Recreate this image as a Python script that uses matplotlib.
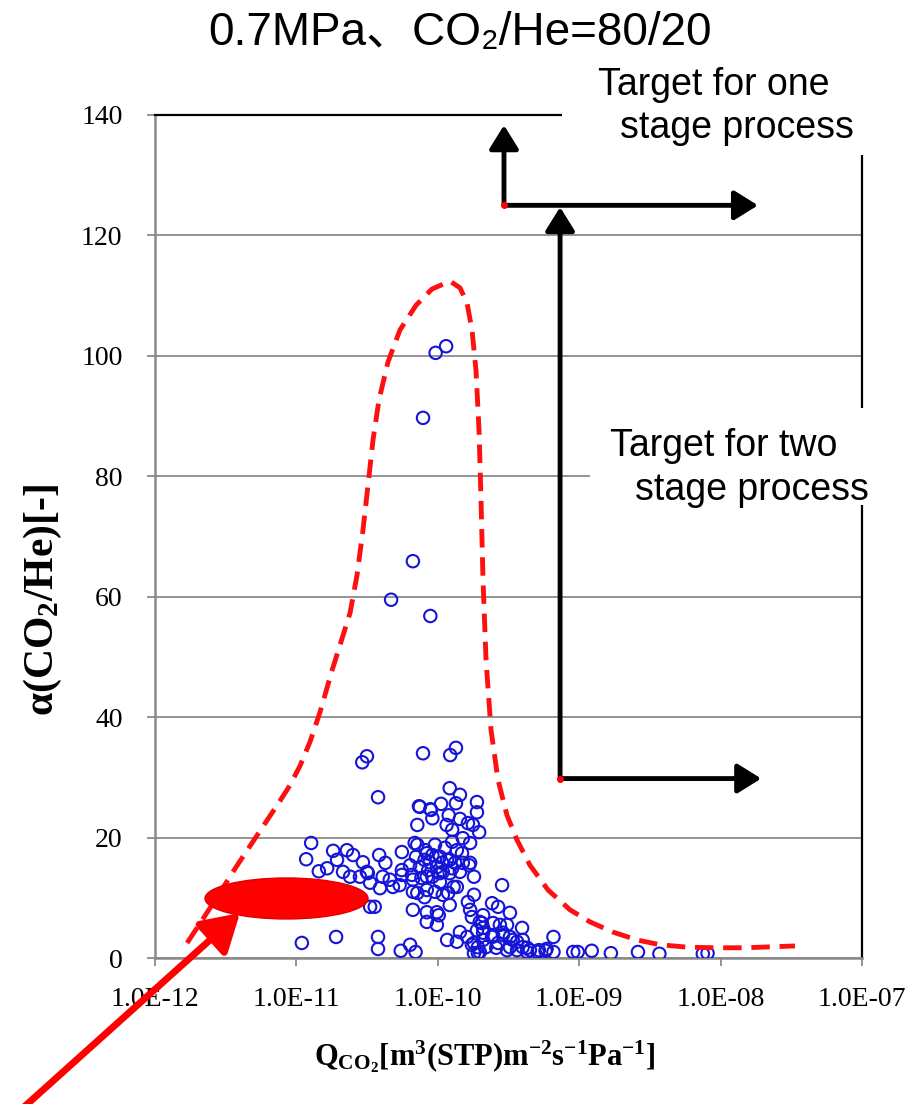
import numpy as np
import matplotlib
matplotlib.use("Agg")
import matplotlib.pyplot as plt
from matplotlib.patches import Ellipse, Rectangle
from matplotlib.ticker import FixedLocator, FuncFormatter, NullLocator

plt.rcParams["mathtext.fontset"] = "custom"
plt.rcParams["mathtext.rm"] = "Liberation Serif:bold"
plt.rcParams["mathtext.it"] = "Liberation Serif:bold"
plt.rcParams["mathtext.bf"] = "Liberation Serif:bold"
plt.rcParams["mathtext.default"] = "rm"

# Membrane data: CO2 permeance [m3(STP) m-2 s-1 Pa-1] and CO2/He selectivity
q_co2 = [
    1.15e-10, 9.7e-11, 7.9e-11, 6.7e-11, 4.7e-11, 8.9e-11, 1.23e-10, 1.35e-10, 7.9e-11, 3.17e-11,
    2.94e-11, 3.8e-11, 1.22e-10, 1.44e-10, 7.4e-11, 9.0e-11, 1.06e-10, 1.35e-10, 1.9e-10, 1.9e-10,
    1.2e-10, 9.2e-11, 1.44e-10, 1.64e-10, 1.78e-10, 1.97e-10, 7.2e-11, 1.27e-10, 1.51e-10, 1.70e-10,
    1.27e-10, 1.28e-11, 1.18e-11, 1.83e-11, 2.29e-11, 1.95e-11, 2.53e-11, 2.97e-11, 3.87e-11, 4.28e-11,
    5.6e-11, 7.2e-11, 7.05e-11, 8.4e-11, 1.04e-10, 1.22e-10, 1.49e-10, 1.51e-10, 1.67e-10, 1.45e-11,
    1.66e-11, 2.41e-11, 3.17e-11, 4.1e-11, 5.6e-11, 6.6e-11, 8.4e-11, 1.04e-10, 1.81e-10, 2.86e-10,
    3.92e-11, 4.84e-11, 5.4e-11, 7.2e-11, 8.4e-11, 1.09e-10, 1.37e-10, 1.81e-10, 3.34e-11, 3.6e-11,
    6.7e-11, 8.4e-11, 1.02e-10, 1.22e-10, 1.64e-10, 1.70e-10, 2.43e-10, 2.68e-10, 3.25e-10, 8.4e-11,
    9.9e-11, 1.75e-10, 1.99e-10, 2.1e-10, 2.47e-10, 2.76e-10, 3.96e-10, 6.6e-10, 1.10e-11, 1.92e-11,
    3.8e-11, 3.8e-11, 5.5e-11, 6.4e-11, 7.0e-11, 1.17e-10, 1.37e-10, 1.62e-10, 1.81e-10, 1.99e-10,
    2.1e-10, 2.43e-10, 2.68e-10, 2.9e-10, 3.25e-10, 3.65e-10, 4.0e-10, 4.5e-10, 5.1e-10, 5.8e-10,
    6.6e-10, 9.1e-10, 9.8e-10, 1.23e-9, 1.68e-9, 2.61e-9, 3.7e-9, 7.5e-9, 8.1e-9, 1.81e-10,
    1.93e-10, 7.5e-11, 8.9e-11, 1.16e-10, 6.9e-11, 8.2e-11, 9.2e-11, 1.17e-10, 1.33e-10, 1.70e-10,
    6.4e-11, 7.5e-11, 8.6e-11, 9.9e-11, 1.09e-10, 1.22e-10, 5.6e-11, 6.7e-11, 7.7e-11, 9.2e-11,
    1.04e-10, 1.30e-10, 6.7e-11, 8.1e-11, 9.6e-11, 1.19e-10, 9.9e-11, 2.1e-10, 2.06e-10, 1.9e-10,
    2.1e-10, 2.47e-10, 2.9e-10, 3.25e-10, 3.65e-10, 4.0e-10, 1.44e-10, 1.75e-10, 1.93e-10, 2.2e-10,
    2.6e-10, 3.1e-10, 4.3e-10, 3.1e-10, 3.4e-10, 4.3e-10, 5.2e-10, 5.9e-10, 2.15e-11, 3.22e-11,
    3.34e-11, 2.83e-11, 4.6e-11, 1.13e-10, 9.6e-11, 1.37e-10, 1.08e-10, 8.8e-11, 1.27e-10, 8.1e-11,
    1.44e-10,
]
alpha = [
    101.6, 100.5, 89.7, 65.9, 59.5, 56.8, 33.7, 34.9, 34.0, 33.5,
    32.5, 26.7, 28.2, 27.1, 25.2, 24.6, 25.6, 25.7, 25.9, 24.2,
    23.7, 23.2, 23.1, 22.4, 22.1, 20.9, 22.1, 21.3, 19.9, 19.1,
    19.3, 19.1, 16.4, 17.8, 17.9, 16.3, 17.1, 15.9, 17.1, 15.8,
    17.6, 18.8, 16.8, 17.4, 16.8, 16.3, 17.4, 15.8, 15.4, 14.4,
    14.9, 13.5, 14.3, 13.5, 14.6, 13.8, 13.5, 14.1, 13.5, 12.1,
    11.6, 11.8, 12.1, 10.8, 11.3, 10.5, 11.8, 10.5, 8.5, 8.5,
    8.0, 7.6, 7.1, 8.8, 9.3, 8.0, 9.1, 8.5, 7.5, 6.0,
    5.5, 6.8, 6.0, 5.0, 5.8, 5.5, 5.0, 3.5, 2.5, 3.5,
    3.5, 1.5, 1.2, 2.2, 1.0, 3.0, 2.7, 3.5, 2.5, 1.0,
    3.0, 3.5, 2.5, 3.8, 1.8, 1.3, 1.8, 1.3, 1.0, 1.2,
    1.0, 1.0, 1.0, 1.2, 0.8, 1.0, 0.7, 0.7, 0.8, 0.8,
    0.8, 25.1, 24.7, 22.1, 19.1, 17.9, 17.1, 16.3, 15.8, 15.8,
    15.4, 15.1, 14.6, 15.1, 14.3, 14.1, 13.8, 13.0, 13.3, 13.5,
    12.6, 11.8, 11.0, 10.1, 11.0, 10.8, 7.6, 7.1, 5.8, 4.6,
    4.2, 3.8, 4.2, 3.5, 2.7, 3.0, 4.3, 2.2, 1.8, 1.8,
    1.7, 1.3, 1.0, 5.5, 3.0, 1.7, 1.3, 1.5, 14.3, 14.1,
    12.5, 13.5, 13.0, 18.3, 18.8, 17.9, 15.8, 15.9, 14.9, 16.3,
    14.3,
]

# hand drawn upper-bound envelope (red dashed)
env_q = [1.70e-12, 2.55e-12, 3.77e-12, 5.05e-12, 6.34e-12, 7.71e-12, 9.07e-12, 1.067e-11,
         1.256e-11, 1.477e-11, 1.80e-11, 2.41e-11, 2.70e-11, 2.975e-11, 3.23e-11, 3.50e-11,
         3.86e-11, 4.47e-11, 5.43e-11, 7.05e-11, 9.14e-11, 1.226e-10, 1.442e-10, 1.616e-10,
         1.753e-10, 1.871e-10, 1.965e-10, 2.03e-10, 2.097e-10, 2.203e-10, 2.388e-10, 2.676e-10,
         3.098e-10, 3.646e-10, 4.505e-10, 6.04e-10, 8.64e-10, 1.196e-9, 1.739e-9, 2.57e-9,
         3.736e-9, 5.80e-9, 9.0e-9, 1.49e-8, 3.36e-8]
env_a = [2.5, 8.8, 15.1, 19.6, 23.1, 26.1, 28.7, 31.9,
         35.9, 40.8, 47.8, 57.3, 63.6, 71.1, 78.6, 86.0,
         92.7, 99.0, 104.3, 108.4, 111.1, 112.4, 111.3, 108.8,
         104.3, 97.6, 87.7, 76.1, 62.8, 49.5, 37.9, 29.6,
         23.7, 19.6, 15.4, 11.3, 8.0, 6.0, 4.3, 3.0,
         2.2, 1.8, 1.7, 1.7, 2.0]

# target arrows (start point, vertical end, horizontal end)
one_stage = dict(q=2.95e-10, a=125.0, a_end=138.3, q_end=1.84e-8)
two_stage = dict(q=7.35e-10, a=29.8, a_end=124.7, q_end=1.94e-8)

x_ticks = [1e-12, 1e-11, 1e-10, 1e-9, 1e-8, 1e-7]
y_ticks = [0, 20, 40, 60, 80, 100, 120, 140]

W, H = 918, 1104
fig = plt.figure(figsize=(W / 100, H / 100), dpi=100)
ax = fig.add_axes([154.5 / W, 1 - 958 / H, 707.5 / W, 843 / H])

ax.set_xscale("log")
ax.set_xlim(1e-12, 1e-7)
ax.set_ylim(0, 140)
ax.xaxis.set_major_locator(FixedLocator(x_ticks))
ax.xaxis.set_minor_locator(NullLocator())
ax.xaxis.set_major_formatter(FuncFormatter(lambda v, p: f"{v:.1E}"))
ax.set_yticks(y_ticks)

ax.yaxis.grid(True, color="#8a8a8a", lw=1.3)
ax.set_axisbelow(True)
for s in ["left", "bottom"]:
    ax.spines[s].set_color("#8a8a8a")
    ax.spines[s].set_linewidth(1.8)
for s in ["top", "right"]:
    ax.spines[s].set_color("black")
    ax.spines[s].set_linewidth(1.6)
ax.tick_params(axis="both", direction="out", length=6, width=1.3, color="#8a8a8a",
               labelsize=20, labelfontfamily="Liberation Serif")
ax.tick_params(axis="y", pad=17)
ax.tick_params(axis="x", pad=15)

ax.scatter(q_co2, alpha, s=80, facecolors="none", edgecolors="#1515d8", linewidths=1.5, zorder=3)
ax.plot(env_q, env_a, color="#ff1010", lw=3.5, dashes=(3.8, 2.0), zorder=4)

# red ellipse marking the low-permeance region
ax.add_patch(Ellipse((0.1866, 0.0706), 0.2304, 0.0486, transform=ax.transAxes,
                     facecolor="#ff0000", edgecolor="#e00000", zorder=5))

arrow_kw = dict(arrowstyle="-|>,head_length=0.45,head_width=0.28", color="black",
                lw=3.5, mutation_scale=32, shrinkA=0, shrinkB=0)
for t in (one_stage, two_stage):
    ax.annotate("", xy=(t["q"], t["a_end"]), xytext=(t["q"], t["a"]),
                arrowprops=arrow_kw, annotation_clip=False, zorder=6)
    ax.annotate("", xy=(t["q_end"], t["a"]), xytext=(t["q"], t["a"]),
                arrowprops=arrow_kw, annotation_clip=False, zorder=6)
    ax.plot(t["q"], t["a"], "o", color="red", ms=4, zorder=7)

# white cover boxes behind the annotation texts
for x0, y0, x1, y1 in [(562, 58, 918, 155), (590, 408, 918, 505)]:
    fig.patches.append(Rectangle((x0 / W, 1 - y1 / H), (x1 - x0) / W, (y1 - y0) / H,
                                 transform=fig.transFigure, facecolor="white",
                                 edgecolor="none", zorder=5))

sans = ["Liberation Sans", "Noto Sans CJK JP", "DejaVu Sans"]
fig.text(460 / W, 1 - 33 / H, "0.7MPa、CO₂/He=80/20", ha="center", va="center",
         fontsize=33, family=sans, zorder=10)
fig.text(598 / W, 1 - 85 / H, "Target for one", ha="left", va="center", fontsize=27,
         family=sans, zorder=10)
fig.text(620 / W, 1 - 128 / H, "stage process", ha="left", va="center", fontsize=27,
         family=sans, zorder=10)
fig.text(610 / W, 1 - 446 / H, "Target for two", ha="left", va="center", fontsize=27,
         family=sans, zorder=10)
fig.text(635 / W, 1 - 490 / H, "stage process", ha="left", va="center", fontsize=27,
         family=sans, zorder=10)

fig.text(485 / W, 1 - 1057 / H, "Q$_{CO_2}$[m$^3$(STP)m$^{-2}$s$^{-1}$Pa$^{-1}$]",
         ha="center", va="center", fontsize=22, family="Liberation Serif",
         weight="bold")
fig.text(43 / W, 1 - 600 / H, "α(CO$_2$/He)[-]", ha="center", va="center", rotation=90,
         fontsize=30, family="Liberation Serif", weight="bold")

# big red pointer arrow from the lower left corner
ax.annotate("", xy=(240, H - 913), xycoords="figure pixels", xytext=(14, -12),
            textcoords="figure pixels", annotation_clip=False,
            arrowprops=dict(arrowstyle="-|>,head_length=0.5,head_width=0.3", color="#ff0000",
                            lw=5, mutation_scale=45, shrinkA=0, shrinkB=0), zorder=8)

fig.savefig("out.png", dpi=100, facecolor="white")
